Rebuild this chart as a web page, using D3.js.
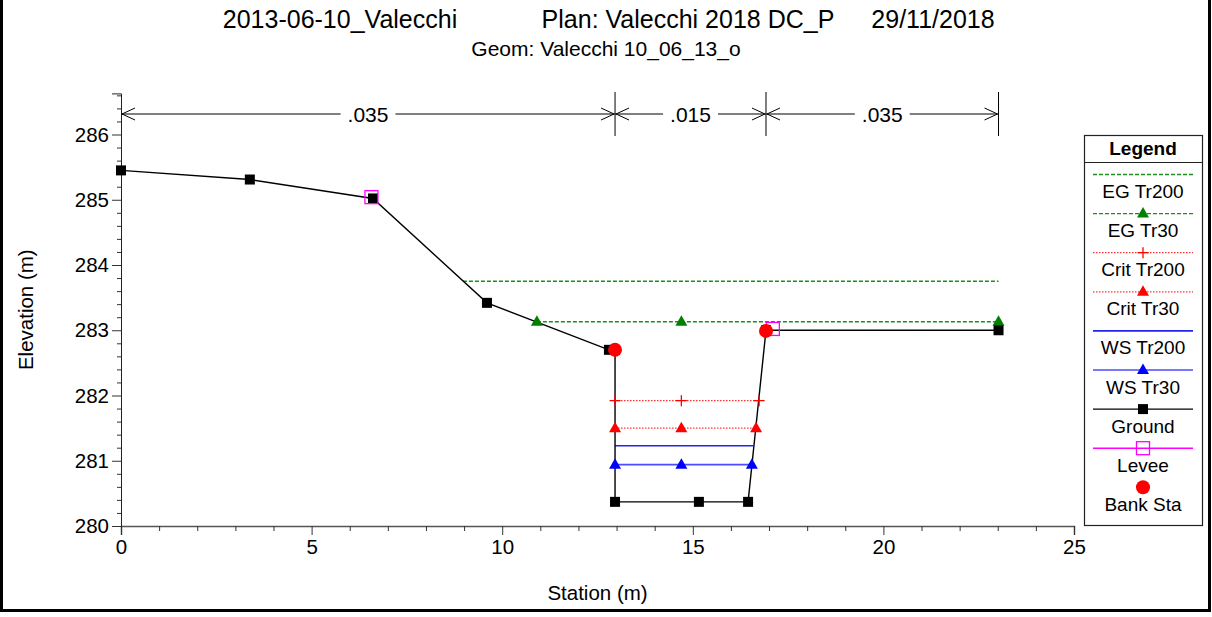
<!DOCTYPE html>
<html>
<head>
<meta charset="utf-8">
<script src="https://cdn.jsdelivr.net/npm/d3@7"></script>
<style>
  html, body { margin: 0; padding: 0; background: #fff; }
  svg { display: block; font-family: "Liberation Sans", Arial, sans-serif; }
</style>
</head>
<body>
<svg id="chart" width="1212" height="617"></svg>
<script>
// Cross section geometry (station m, elevation m)
const groundSta  = [0, 3.38, 6.61, 9.60, 12.80, 12.96, 12.96, 15.16, 16.45, 16.92, 23.02];
const groundElev = [285.45, 285.31, 285.02, 283.42, 282.70, 282.70, 280.37, 280.37, 280.37, 283.00, 283.00];

const leveeSta  = [6.57, 17.10];
const leveeElev = [285.04, 283.02];

const bankSta  = [12.96, 16.92];
const bankElev = [282.70, 282.99];

// Manning's n regions
const nValues = [".035", ".015", ".035"];
const nBreaks = [0, 12.96, 16.92, 23.02];

// Water surface profiles: [left station, right station], elevation, marker stations
const profileNames = ["EG Tr200", "EG Tr30", "Crit Tr200", "Crit Tr30", "WS Tr200", "WS Tr30"];
const profileElev  = [283.75, 283.13, 281.92, 281.50, 281.23, 280.94];
const profileLeft  = [8.97, 10.91, 12.96, 12.96, 12.96, 12.96];
const profileRight = [23.02, 23.02, 16.74, 16.66, 16.58, 16.55];
const profileMarks = [[], [10.91, 14.70, 23.02], [12.96, 14.70, 16.74], [12.96, 14.70, 16.66], [], [12.96, 14.70, 16.55]];

const xTicks = [0, 5, 10, 15, 20, 25];
const yTicks = [280, 281, 282, 283, 284, 285, 286];

const titleParts = ["2013-06-10_Valecchi", "Plan: Valecchi 2018 DC_P", "29/11/2018"];
const subtitle = "Geom: Valecchi 10_06_13_o";

// Styles per profile
const styles = [
  { color: "#1a8f1a", dash: "4,2", width: 1.4, marker: null },
  { color: "#1a8f1a", dash: "4,2", width: 1.4, marker: "tri", mcolor: "#008000" },
  { color: "#ff3030", dash: "1.5,1.5", width: 1.2, marker: "plus", mcolor: "#ff0000" },
  { color: "#ff3030", dash: "1.5,1.5", width: 1.2, marker: "tri", mcolor: "#ff0000" },
  { color: "#2222ee", dash: null, width: 1.6, marker: null },
  { color: "#4b4bff", dash: null, width: 1.6, marker: "tri", mcolor: "#0000ff" }
];

const svg = d3.select("#chart");

const x = d3.scaleLinear().domain([0, 25]).range([121, 1074]);
const y = d3.scaleLinear().domain([280, 286.63]).range([526, 93.4]);

// Outer frame
svg.append("rect").attr("x", 1.5).attr("y", -4).attr("width", 1208).attr("height", 614.5)
  .attr("fill", "none").attr("stroke", "#000").attr("stroke-width", 3);

// Titles
const titleX = [340, 688, 933];
titleParts.forEach((t, i) => {
  svg.append("text").attr("x", titleX[i]).attr("y", 28).attr("text-anchor", "middle")
    .attr("font-size", 25).text(t);
});
svg.append("text").attr("x", 606).attr("y", 56).attr("text-anchor", "middle")
  .attr("font-size", 21).text(subtitle);

// Axes
const xAxis = svg.append("g").attr("transform", `translate(0,${y(280)})`)
  .call(d3.axisBottom(x).tickValues(xTicks).tickSize(9).tickPadding(4).tickFormat(d3.format("d")));
svg.append("g").attr("transform", `translate(0,${y(280)})`)
  .call(d3.axisBottom(x).tickValues(d3.range(0, 26).filter(v => v % 5 !== 0)).tickSize(5).tickFormat(""))
  .select(".domain").remove();

const yAxis = svg.append("g").attr("transform", `translate(${x(0)},0)`)
  .call(d3.axisLeft(y).tickValues(yTicks).tickSize(9).tickPadding(3).tickFormat(d3.format("d")));
const minorY = d3.range(0, 34).map(i => 280 + i * 0.2).filter(v => Math.abs(v - Math.round(v)) > 0.01);
svg.append("g").attr("transform", `translate(${x(0)},0)`)
  .call(d3.axisLeft(y).tickValues(minorY).tickSize(4).tickFormat(""))
  .select(".domain").remove();

svg.selectAll("g").attr("font-family", null);
svg.selectAll(".tick text").attr("font-size", 20.5).attr("fill", "#000");
svg.selectAll(".tick line").attr("stroke", "#333");
xAxis.select(".domain").attr("stroke", "#555").attr("stroke-width", 1.5);
yAxis.select(".domain").attr("stroke", "#222");

svg.append("text").attr("x", (x(0) + x(25)) / 2).attr("y", 600).attr("text-anchor", "middle")
  .attr("font-size", 20.5).text("Station (m)");
svg.append("text").attr("transform", `translate(33,${(y(280) + y(286.63)) / 2}) rotate(-90)`)
  .attr("text-anchor", "middle").attr("font-size", 20.5).text("Elevation (m)");

// Manning's n bar
const nY = 114;
const nBar = svg.append("g");
nBar.append("line").attr("x1", x(nBreaks[0])).attr("x2", x(nBreaks[nBreaks.length - 1]))
  .attr("y1", nY).attr("y2", nY).attr("stroke", "#000");
nBreaks.slice(1).forEach(b => {
  nBar.append("line").attr("x1", x(b)).attr("x2", x(b)).attr("y1", 92).attr("y2", 136).attr("stroke", "#000");
});
function chevron(px, dir) {
  nBar.append("path")
    .attr("d", `M${px - dir * 13},${nY - 6} L${px},${nY} L${px - dir * 13},${nY + 6}`)
    .attr("fill", "none").attr("stroke", "#000").attr("stroke-width", 1);
}
nValues.forEach((v, i) => {
  const a = x(nBreaks[i]), b = x(nBreaks[i + 1]);
  chevron(a + 1, -1);
  chevron(b - 1, 1);
  const t = nBar.append("text").attr("x", (a + b) / 2).attr("y", nY + 7.5).attr("text-anchor", "middle")
    .attr("font-size", 21).text(v);
  const bb = t.node().getBBox();
  nBar.insert("rect", "text").attr("x", bb.x - 7).attr("y", bb.y).attr("width", bb.width + 14)
    .attr("height", bb.height).attr("fill", "#fff");
});

// Marker drawing helpers
function drawMarker(g, type, cx, cy, color) {
  if (type === "tri") {
    g.append("path").attr("d", `M${cx},${cy - 6.5} L${cx + 6},${cy + 4} L${cx - 6},${cy + 4} Z`)
      .attr("fill", color);
  } else if (type === "plus") {
    g.append("path").attr("d", `M${cx - 5.5},${cy} H${cx + 5.5} M${cx},${cy - 5.5} V${cy + 5.5}`)
      .attr("stroke", color).attr("stroke-width", 1.3);
  } else if (type === "square") {
    g.append("rect").attr("x", cx - 5).attr("y", cy - 5).attr("width", 10).attr("height", 10).attr("fill", color);
  } else if (type === "open") {
    g.append("rect").attr("x", cx - 6.5).attr("y", cy - 6.5).attr("width", 13).attr("height", 13)
      .attr("fill", "none").attr("stroke", color).attr("stroke-width", 1.3);
  } else if (type === "circle") {
    g.append("circle").attr("cx", cx).attr("cy", cy).attr("r", 7).attr("fill", color);
  }
}

const plot = svg.append("g");

// Water surface profiles
profileNames.forEach((name, i) => {
  const s = styles[i];
  plot.append("line")
    .attr("x1", x(profileLeft[i])).attr("x2", x(profileRight[i]))
    .attr("y1", y(profileElev[i])).attr("y2", y(profileElev[i]))
    .attr("stroke", s.color).attr("stroke-width", s.width)
    .attr("stroke-dasharray", s.dash);
});

// Ground line
const groundPts = groundSta.map((s, i) => [s, groundElev[i]]);
plot.append("path").datum(groundPts)
  .attr("d", d3.line().x(d => x(d[0])).y(d => y(d[1])))
  .attr("fill", "none").attr("stroke", "#000").attr("stroke-width", 1.4);

// Profile markers
profileNames.forEach((name, i) => {
  const s = styles[i];
  profileMarks[i].forEach(st => drawMarker(plot, s.marker, x(st), y(profileElev[i]), s.mcolor));
});

groundPts.forEach(d => drawMarker(plot, "square", x(d[0]), y(d[1]), "#000"));
leveeSta.forEach((s, i) => drawMarker(plot, "open", x(s), y(leveeElev[i]), "#ff00ff"));
bankSta.forEach((s, i) => drawMarker(plot, "circle", x(s), y(bankElev[i]), "#ff0000"));

// Legend
const lg = svg.append("g");
lg.append("rect").attr("x", 1084.5).attr("y", 135.5).attr("width", 118).attr("height", 390)
  .attr("fill", "#fff").attr("stroke", "#222").attr("stroke-width", 1.2);
lg.append("line").attr("x1", 1084.5).attr("x2", 1202.5).attr("y1", 162.5).attr("y2", 162.5)
  .attr("stroke", "#222").attr("stroke-width", 1.2);
lg.append("text").attr("x", 1143).attr("y", 155).attr("text-anchor", "middle")
  .attr("font-size", 19).attr("font-weight", "bold").text("Legend");

const legendNames = profileNames.concat(["Ground", "Levee", "Bank Sta"]);
const legendStyles = styles.concat([
  { color: "#000", dash: null, width: 1.4, marker: "square", mcolor: "#000" },
  { color: "#ff00ff", dash: null, width: 1.4, marker: "open", mcolor: "#ff00ff" },
  { color: null, marker: "circle", mcolor: "#ff0000" }
]);
legendNames.forEach((name, i) => {
  const ly = 174.5 + i * 39.1;
  const s = legendStyles[i];
  if (s.color) {
    lg.append("line").attr("x1", 1093).attr("x2", 1193).attr("y1", ly).attr("y2", ly)
      .attr("stroke", s.color).attr("stroke-width", s.width).attr("stroke-dasharray", s.dash);
  }
  if (s.marker) drawMarker(lg, s.marker, 1143, ly, s.mcolor);
  lg.append("text").attr("x", 1143).attr("y", ly + 23.5).attr("text-anchor", "middle")
    .attr("font-size", 19).text(name);
});
</script>
</body>
</html>
